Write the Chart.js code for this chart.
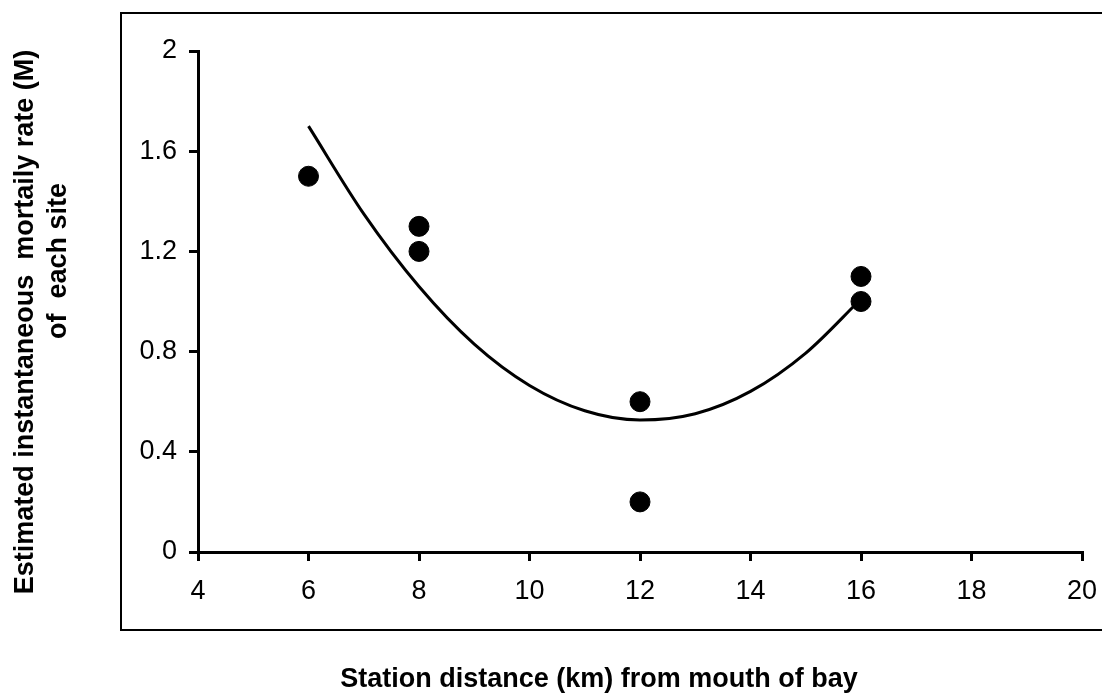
<!DOCTYPE html>
<html>
<head>
<meta charset="utf-8">
<script src="https://cdn.jsdelivr.net/npm/chart.js@4"></script>
<style>
  html, body { margin: 0; padding: 0; background: #fff; }
  #wrap { width: 1102px; height: 696px; position: relative; }
</style>
</head>
<body>
<div id="wrap"><canvas id="myChart"></canvas></div>
<script>
// station distance (km) and estimated mortality rate at each site
var stationKm = [6, 8, 8, 12, 12, 16, 16];
var mortality = [1.5, 1.3, 1.2, 0.6, 0.2, 1.1, 1.0];

// polynomial trend line, read at each km
var trendKm = [6, 7, 8, 9, 10, 11, 12, 13, 14, 15, 16];
var trendM = [1.70, 1.35, 1.06, 0.83, 0.665, 0.564, 0.527, 0.552, 0.641, 0.794, 1.01];

var xTitle = 'Station distance (km) from mouth of bay';
var yTitle = ['Estimated instantaneous  mortaily rate (M)', 'of  each site'];

var ctx = document.getElementById('myChart').getContext('2d');
Chart.defaults.font.family = "'Liberation Sans', Arial, sans-serif";
Chart.defaults.color = '#000';

// outer frame and the two axis titles
var frame = {
  id: 'frame',
  beforeDraw: function(chart) {
    var c = chart.ctx;
    c.save();
    c.fillStyle = '#fff';
    c.fillRect(0, 0, chart.width, chart.height);
    c.strokeStyle = '#000';
    c.lineWidth = 2;
    c.strokeRect(121, 13, 1000, 617);
    c.restore();
  },
  afterDraw: function(chart) {
    var c = chart.ctx;
    c.save();
    c.fillStyle = '#000';
    c.font = "bold 27px 'Liberation Sans', Arial, sans-serif";
    c.textAlign = 'center';
    c.textBaseline = 'middle';
    c.fillText(xTitle, 599, 680);
    c.translate(26, 0);
    c.rotate(-Math.PI / 2);
    c.fillText(yTitle[0], -322, 0);
    c.fillText(yTitle[1], -261, 33);
    c.restore();
  }
};

var chart = new Chart(ctx, {
  type: 'scatter',
  data: {
    datasets: [{
      label: 'Sites',
      data: stationKm.map(function(x, i) { return {x: x, y: mortality[i]}; }),
      backgroundColor: '#000',
      borderColor: '#000',
      pointRadius: 10,
      pointHoverRadius: 10,
      order: 1
    }, {
      label: 'Trend',
      type: 'line',
      data: trendKm.map(function(x, i) { return {x: x, y: trendM[i]}; }),
      borderColor: '#000',
      borderWidth: 3,
      pointRadius: 0,
      fill: false,
      cubicInterpolationMode: 'monotone',
      order: 2
    }]
  },
  plugins: [frame],
  options: {
    responsive: true,
    maintainAspectRatio: false,
    animation: false,
    layout: { padding: { top: 51, right: 20, left: 0, bottom: 0 } },
    plugins: {
      legend: { display: false },
      tooltip: { enabled: false }
    },
    scales: {
      x: {
        type: 'linear',
        min: 4,
        max: 20,
        afterFit: function(s) { s.height = 144; s.paddingLeft = 0; s.paddingRight = 0; },
        ticks: { stepSize: 2, padding: 14, font: { size: 27 } },
        grid: { drawOnChartArea: false, tickLength: 9, color: '#000', lineWidth: 3 },
        border: { color: '#000', width: 3 }
      },
      y: {
        min: 0,
        max: 2,
        afterFit: function(s) { s.width = 198; s.paddingTop = 0; s.paddingBottom = 0; },
        ticks: {
          stepSize: 0.4,
          padding: 12,
          font: { size: 27 },
          callback: function(v) { return String(+v.toFixed(1)); }
        },
        grid: { drawOnChartArea: false, tickLength: 9, color: '#000', lineWidth: 3 },
        border: { color: '#000', width: 3 }
      }
    }
  }
});
</script>
</body>
</html>
